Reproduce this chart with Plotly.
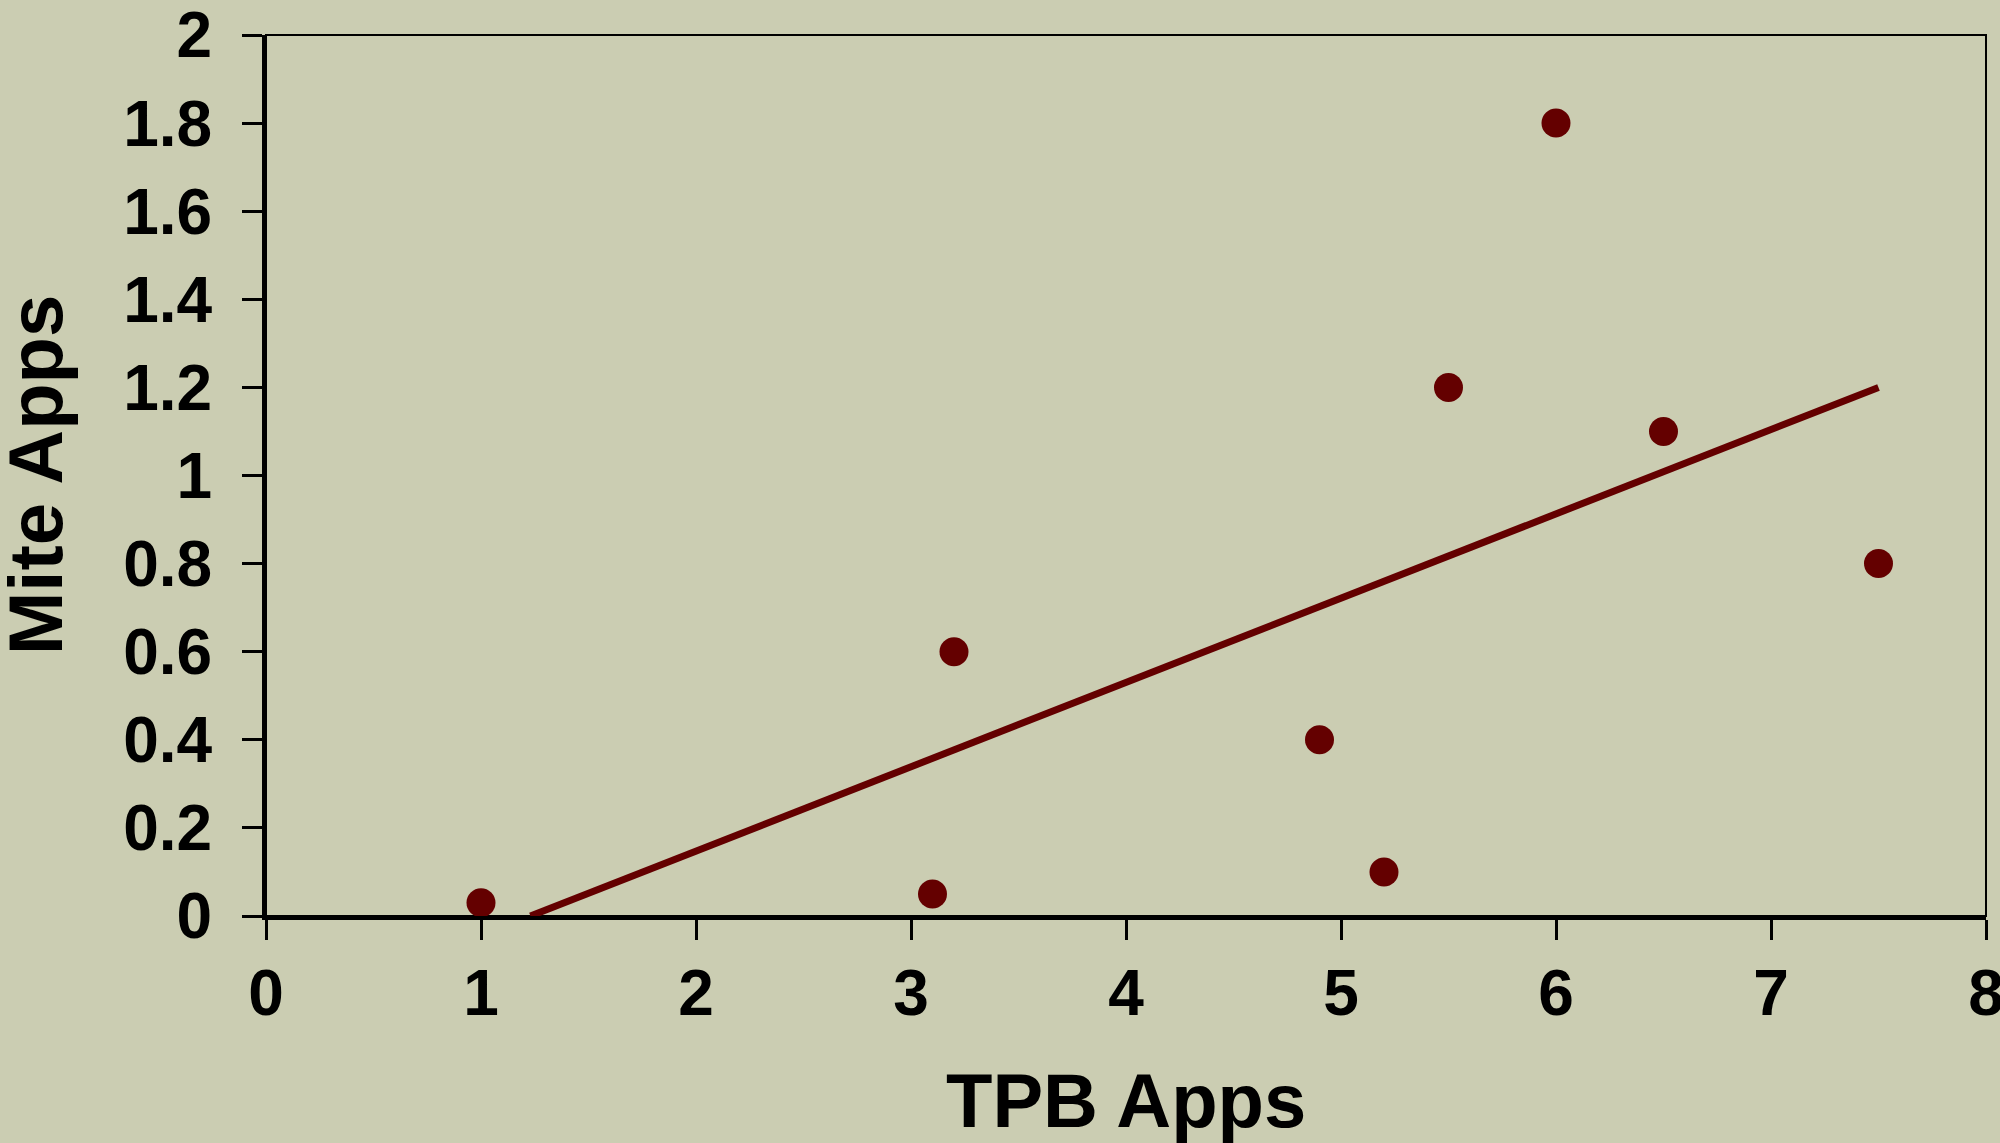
import plotly.graph_objects as go

# observed points
tpb_apps = [1.0, 3.1, 3.2, 4.9, 5.2, 5.5, 6.0, 6.5, 7.5]
mite_apps = [0.03, 0.05, 0.6, 0.4, 0.1, 1.2, 1.8, 1.1, 0.8]

# linear trendline as drawn (visible end points)
trend_x = [1.23, 7.5]
trend_y = [0.0, 1.2]

x_ticks = [0, 1, 2, 3, 4, 5, 6, 7, 8]
y_ticks = [0, 0.2, 0.4, 0.6, 0.8, 1.0, 1.2, 1.4, 1.6, 1.8, 2.0]
y_labels = ["0", "0.2", "0.4", "0.6", "0.8", "1", "1.2", "1.4", "1.6", "1.8", "2"]

BG = "#CBCDB2"
MAROON = "#640000"
FONT = "Liberation Sans, Arial, sans-serif"

fig = go.Figure()
fig.add_trace(
    go.Scatter(
        x=trend_x,
        y=trend_y,
        mode="lines",
        line={"color": MAROON, "width": 7},
        showlegend=False,
        hoverinfo="skip",
    )
)
fig.add_trace(
    go.Scatter(
        x=tpb_apps,
        y=mite_apps,
        mode="markers",
        marker={"color": MAROON, "size": 29, "line": {"width": 0}},
        cliponaxis=False,
        showlegend=False,
    )
)

fig.update_layout(
    width=2000,
    height=1143,
    paper_bgcolor=BG,
    plot_bgcolor=BG,
    margin={"l": 266, "r": 14, "t": 35, "b": 227, "autoexpand": False},
    font={"family": FONT, "color": "black", "size": 64},
    shapes=[
        {
            "type": "rect",
            "xref": "paper",
            "yref": "paper",
            "x0": 0,
            "x1": 1,
            "y0": 0,
            "y1": 1,
            "line": {"color": "black", "width": 2},
            "layer": "below",
        }
    ],
    annotations=[
        {
            "text": "<b>TPB Apps</b>",
            "xref": "paper",
            "yref": "paper",
            "x": 0.5,
            "y": -0.209,
            "xanchor": "center",
            "yanchor": "middle",
            "showarrow": False,
            "font": {"family": FONT, "size": 76, "color": "black"},
        },
        {
            "text": "<b>Mite Apps</b>",
            "xref": "paper",
            "yref": "paper",
            "x": -0.134,
            "y": 0.5,
            "xanchor": "center",
            "yanchor": "middle",
            "textangle": -90,
            "showarrow": False,
            "font": {"family": FONT, "size": 76, "color": "black"},
        },
    ],
)
fig.update_xaxes(
    range=[0, 8],
    tickvals=x_ticks,
    automargin=False,
    showgrid=False,
    zeroline=False,
    showline=True,
    linecolor="black",
    linewidth=4,
    ticks="outside",
    ticklen=20,
    tickwidth=3,
    tickcolor="black",
    tickfont={"family": FONT, "size": 64, "color": "black", "weight": "bold"},
    ticklabelstandoff=-2,
    ticklabeloverflow="allow",
)
fig.update_yaxes(
    range=[0, 2],
    tickvals=y_ticks,
    ticktext=y_labels,
    automargin=False,
    showgrid=False,
    zeroline=False,
    showline=True,
    linecolor="black",
    linewidth=4,
    ticks="outside",
    ticklen=20,
    tickwidth=3,
    tickcolor="black",
    tickfont={"family": FONT, "size": 64, "color": "black", "weight": "bold"},
    ticklabelstandoff=17,
    ticklabeloverflow="allow",
)

fig.write_html(
    "out.html",
    config={"displayModeBar": False},
    post_script="document.body.style.margin='0';document.body.style.overflow='hidden';",
)
